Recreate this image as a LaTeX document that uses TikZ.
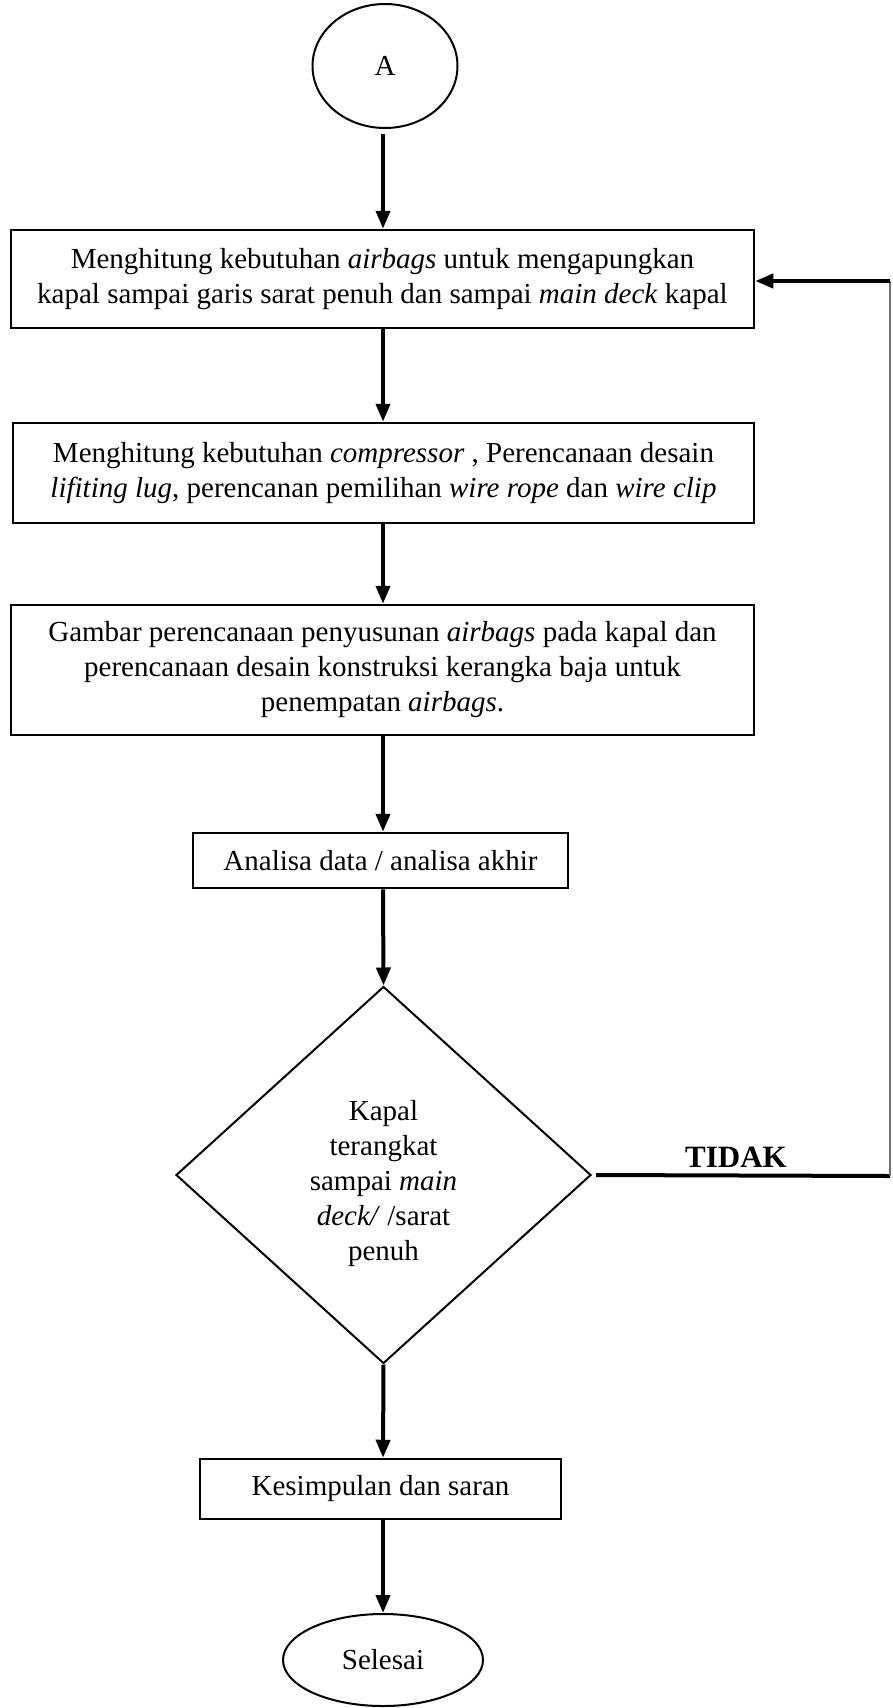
\documentclass[tikz,border=0pt]{standalone}
\usepackage{fontspec}
\setmainfont{Liberation Serif}
\usetikzlibrary{shapes.geometric,arrows.meta}
\begin{document}
\begin{tikzpicture}[x=1pt,y=1pt,
  every node/.style={font=\fontsize{29}{35}\selectfont},
  procbox/.style={draw,line width=2.5pt,rectangle,align=center,inner sep=0pt},
  term/.style={draw,line width=2pt,ellipse,inner sep=0pt},
  decision/.style={draw,line width=2pt,diamond,align=center,inner sep=0pt},
  arr/.style={line width=4pt,-{Triangle[length=18pt,width=14pt]}},
  thickline/.style={line width=4pt},
  thinline/.style={line width=1.2pt,black!55}]
\useasboundingbox (0,0) rectangle (893,-1708);

\node[term,minimum width=145pt,minimum height=124pt] (A) at (385,-66) {A};

\node[procbox,minimum width=743pt,minimum height=98pt] (b1) at (382.5,-279)
  {Menghitung kebutuhan \textit{airbags} untuk mengapungkan\\
   kapal sampai garis sarat penuh dan sampai \textit{main deck} kapal};

\node[procbox,minimum width=741pt,minimum height=100pt] (b2) at (383.5,-473)
  {Menghitung kebutuhan \textit{compressor} , Perencanaan desain\\
   \textit{lifiting lug}, perencanan pemilihan \textit{wire rope} dan \textit{wire clip}};

\node[procbox,minimum width=743pt,minimum height=130pt] (b3) at (382.5,-670)
  {Gambar perencanaan penyusunan \textit{airbags} pada kapal dan\\
   perencanaan desain konstruksi kerangka baja untuk\\
   penempatan \textit{airbags}.};

\node[procbox,minimum width=375pt,minimum height=55pt] (b4) at (380.5,-860.5)
  {Analisa data / analisa akhir};

\node[decision,minimum width=415pt,minimum height=377pt] (d) at (383.5,-1175) {};
\node[align=center,inner sep=0pt] (dtext) at ([yshift=-9pt]d.center)
  {Kapal\\ terangkat\\ sampai \textit{main}\\ \textit{deck/} /sarat\\ penuh};

\node[procbox,minimum width=361pt,minimum height=60pt] (b5) at (380.5,-1489)
  {Kesimpulan dan saran};

\node[term,minimum width=200pt,minimum height=92pt] (sel) at (383,-1660) {Selesai};

\coordinate (cx) at (383,0);

\draw[arr] (cx |- A.south) ++(0,-5) -- (cx |- b1.north);
\draw[arr] (cx |- b1.south) -- (cx |- b2.north);
\draw[arr] (cx |- b2.south) -- (cx |- b3.north);
\draw[arr] (cx |- b3.south) -- (cx |- b4.north);
\draw[arr] (cx |- b4.south) -- (d.north);
\draw[arr] (d.south) -- (cx |- b5.north);
\draw[arr] (cx |- b5.south) -- (sel.north);

\coordinate (cr) at (890,-1176);
\coordinate (ct) at (890,-281);
\draw[thickline] ([xshift=4pt]d.east) -- (cr);
\draw[thinline] (cr) -- (ct);
\draw[arr] (ct) -- (b1.east |- ct);

\node[font=\bfseries\fontsize{31}{35}\selectfont,inner sep=0pt] (tidak) at (736,-1157) {TIDAK};
\end{tikzpicture}
\end{document}
